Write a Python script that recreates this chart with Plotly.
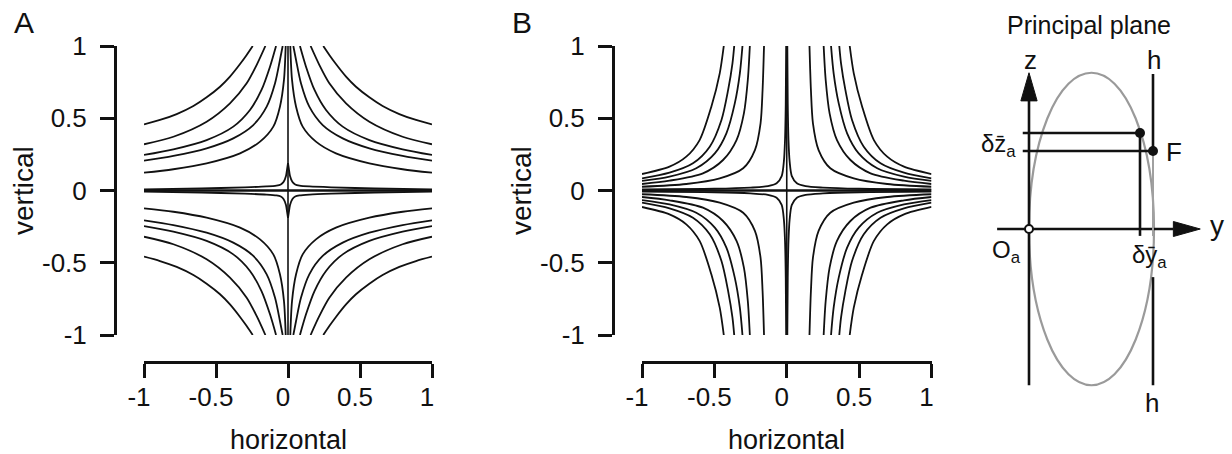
import plotly.graph_objects as go

W, H = 1232, 454

# ---------------- Panel A: upper-left branches (mirrored to the other quadrants)
a1_x = [-1.0, -0.889, -0.773, -0.657, -0.565, -0.472, -0.403, -0.333, -0.287, -0.245]
a1_y = [0.458, 0.488, 0.529, 0.585, 0.645, 0.718, 0.788, 0.875, 0.938, 1.0]
a2_x = [-1.0, -0.796, -0.565, -0.403, -0.287, -0.218, -0.157]
a2_y = [0.32, 0.372, 0.476, 0.603, 0.742, 0.868, 1.0]
a3_x = [-1.0, -0.796, -0.565, -0.38, -0.264, -0.184, -0.125, -0.083]
a3_y = [0.246, 0.285, 0.349, 0.442, 0.557, 0.696, 0.857, 1.0]
a4_x = [-1.0, -0.796, -0.565, -0.38, -0.241, -0.148, -0.09, -0.056, -0.037]
a4_y = [0.206, 0.239, 0.292, 0.361, 0.453, 0.58, 0.742, 0.903, 1.0]
a5_x = [-1.0, -0.796, -0.565, -0.333, -0.194, -0.102, -0.056, -0.028, -0.016]
a5_y = [0.123, 0.147, 0.188, 0.257, 0.338, 0.442, 0.58, 0.765, 1.0]
a_cusp_x = [-1.0, -0.6, -0.3, -0.15, -0.08, -0.05, -0.03, -0.014, -0.006, 0.0]
a_cusp_y = [0.008, 0.014, 0.022, 0.028, 0.034, 0.042, 0.06, 0.1, 0.15, 0.19]

# ---------------- Panel B: upper-left branches
b1_x = [-1.0, -0.81, -0.694, -0.602, -0.521, -0.463, -0.435]
b1_y = [0.114, 0.165, 0.234, 0.349, 0.58, 0.811, 1.0]
b2_x = [-1.0, -0.81, -0.648, -0.532, -0.451, -0.405, -0.375, -0.363]
b2_y = [0.084, 0.123, 0.188, 0.303, 0.488, 0.696, 0.88, 1.0]
b3_x = [-1.0, -0.81, -0.625, -0.497, -0.417, -0.359, -0.324, -0.306]
b3_y = [0.066, 0.096, 0.154, 0.257, 0.396, 0.603, 0.811, 1.0]
b4_x = [-1.0, -0.81, -0.579, -0.44, -0.347, -0.296, -0.269, -0.255]
b4_y = [0.045, 0.068, 0.119, 0.211, 0.349, 0.534, 0.765, 1.0]
b5_x = [-1.0, -0.694, -0.463, -0.301, -0.22, -0.181, -0.167, -0.157]
b5_y = [0.026, 0.045, 0.084, 0.154, 0.28, 0.465, 0.696, 1.0]
b_cusp_x = [-1.0, -0.5, -0.25, -0.13, -0.07, -0.035, -0.02, -0.012, -0.007, -0.004]
b_cusp_y = [0.008, 0.012, 0.02, 0.03, 0.05, 0.1, 0.2, 0.35, 0.6, 1.0]

axis_span = [-1.0, 1.0]
zero_pair = [0.0, 0.0]

tick_vals = [-1, -0.5, 0, 0.5, 1]
tick_text = ["-1", "-0.5", "0", "0.5", "1"]

# ---------------- Panel C: schematic of the principal plane (schematic units)
ell_center = (1.0, 0.0)
ell_axes = (1.0, 2.5)
z_axis_v = [-2.5, 2.05]
z_head_x = [-0.13, 0.0, 0.13, -0.13]
z_head_y = [2.05, 2.5, 2.05, 2.05]
y_axis_u = [-0.51, 2.31]
y_head_x = [2.31, 2.74, 2.31, 2.31]
y_head_y = [-0.12, 0.0, 0.12, -0.12]
dot_u, dot_v = 1.776, 1.536
f_u, f_v = 1.984, 1.248
line_start_u = -0.1
drop_end_v = -0.11
h_top_v = 2.48
h_low = [-0.77, -2.5]

FONT = "Liberation Sans, Arial, Helvetica, sans-serif"
BLACK = "#111111"
LW = 1.8

fig = go.Figure()


def add_quadrants(xs, ys, xa, ya, width=LW):
    for sx in (1, -1):
        for sy in (1, -1):
            fig.add_trace(go.Scatter(
                x=[sx * v for v in xs], y=[sy * v for v in ys], mode="lines",
                line=dict(color=BLACK, width=width, shape="spline", smoothing=0.8),
                xaxis=xa, yaxis=ya, showlegend=False, hoverinfo="skip"))


for xs, ys in [(a1_x, a1_y), (a2_x, a2_y), (a3_x, a3_y), (a4_x, a4_y), (a5_x, a5_y), (a_cusp_x, a_cusp_y)]:
    add_quadrants(xs, ys, "x", "y")
for xs, ys in [(b1_x, b1_y), (b2_x, b2_y), (b3_x, b3_y), (b4_x, b4_y), (b5_x, b5_y), (b_cusp_x, b_cusp_y)]:
    add_quadrants(xs, ys, "x2", "y2")

# straight zero lines
for xa, ya in [("x", "y"), ("x2", "y2")]:
    fig.add_trace(go.Scatter(x=axis_span, y=zero_pair, mode="lines",
                             line=dict(color=BLACK, width=2.4), xaxis=xa, yaxis=ya,
                             showlegend=False, hoverinfo="skip"))
    fig.add_trace(go.Scatter(x=zero_pair, y=axis_span, mode="lines",
                             line=dict(color=BLACK, width=1.6), xaxis=xa, yaxis=ya,
                             showlegend=False, hoverinfo="skip"))

# ---------------- schematic traces
SLW = 2.6
def sline(xs, ys, color=BLACK, width=SLW):
    fig.add_trace(go.Scatter(x=xs, y=ys, mode="lines", line=dict(color=color, width=width),
                             xaxis="x3", yaxis="y3", showlegend=False, hoverinfo="skip"))

sline([0, 0], z_axis_v)
sline(y_axis_u, [0, 0])
sline([line_start_u, dot_u], [dot_v, dot_v])
sline([line_start_u, f_u], [f_v, f_v])
sline([dot_u, dot_u], [dot_v, drop_end_v])
sline([f_u, f_u], [h_top_v, f_v])
sline([f_u, f_u], [f_v, drop_end_v], color="#a0a0a0", width=2)
sline([f_u, f_u], h_low)
for hx, hy in [(z_head_x, z_head_y), (y_head_x, y_head_y)]:
    fig.add_trace(go.Scatter(x=hx, y=hy, mode="lines", fill="toself", fillcolor=BLACK,
                             line=dict(color=BLACK, width=1), xaxis="x3", yaxis="y3",
                             showlegend=False, hoverinfo="skip"))
fig.add_trace(go.Scatter(x=[dot_u, f_u], y=[dot_v, f_v], mode="markers",
                         marker=dict(color=BLACK, size=10), xaxis="x3", yaxis="y3",
                         showlegend=False, hoverinfo="skip"))
fig.add_trace(go.Scatter(x=[0], y=[0], mode="markers",
                         marker=dict(color="white", size=8, line=dict(color=BLACK, width=2)),
                         xaxis="x3", yaxis="y3", showlegend=False, hoverinfo="skip"))

fig.add_shape(type="circle", xref="x3", yref="y3",
              x0=ell_center[0] - ell_axes[0], x1=ell_center[0] + ell_axes[0],
              y0=ell_center[1] - ell_axes[1], y1=ell_center[1] + ell_axes[1],
              line=dict(color="#9a9a9a", width=2.2), layer="below")

# ---------------- axes
def px_x(p):
    return p / W

def px_y(p):
    return 1 - p / H

common = dict(range=[-1, 1], showline=True, linewidth=3, linecolor=BLACK, ticks="outside",
              ticklen=14, tickwidth=3, tickcolor=BLACK, tickmode="array", tickvals=tick_vals,
              ticktext=tick_text, tickfont=dict(size=26, color=BLACK, family=FONT),
              showgrid=False, zeroline=False, anchor="free", fixedrange=True)
xcommon = dict(ticklabelstandoff=-3, ticklabelshift=-5, **common)
ycommon = dict(ticklabelstandoff=8, **common)

fig.update_layout(
    autosize=True, margin=dict(l=0, r=0, t=0, b=0, autoexpand=False),
    paper_bgcolor="white", plot_bgcolor="rgba(0,0,0,0)",
    font=dict(family=FONT, color=BLACK),
    xaxis=dict(domain=[px_x(144), px_x(432)], position=px_y(362), **xcommon),
    yaxis=dict(domain=[px_y(335), px_y(46)], position=px_x(115), **ycommon),
    xaxis2=dict(domain=[px_x(642), px_x(931.5)], position=px_y(362), **xcommon),
    yaxis2=dict(domain=[px_y(335), px_y(46)], position=px_x(613), **ycommon),
    xaxis3=dict(domain=[px_x(960), 1.0], range=[(960 - 1029) / 62.5, (1232 - 1029) / 62.5],
                visible=False, anchor="y3", fixedrange=True),
    yaxis3=dict(domain=[px_y(420), px_y(40)], range=[(229 - 420) / 62.5, (229 - 40) / 62.5],
                visible=False, anchor="x3", fixedrange=True),
)

ann = []
def pa(text, x, y, size=27, angle=0, xanchor="center"):
    ann.append(dict(text=text, x=px_x(x), y=px_y(y), xref="paper", yref="paper",
                    showarrow=False, font=dict(size=size, family=FONT, color=BLACK),
                    textangle=angle, xanchor=xanchor, yanchor="middle"))

def sa(text, u, v, size=24, xanchor="center"):
    ann.append(dict(text=text, x=u, y=v, xref="x3", yref="y3", showarrow=False,
                    font=dict(size=size, family=FONT, color=BLACK), xanchor=xanchor,
                    yanchor="middle"))

pa("A", 24, 23, size=30)
pa("B", 522, 23, size=30)
pa("vertical", 23, 191, size=28, angle=-90)
pa("vertical", 521, 191, size=28, angle=-90)
pa("horizontal", 288, 440)
pa("horizontal", 786, 440)
pa("Principal plane", 1089, 25, size=25)

sa("z", 0.016, 2.70, size=26)
sa("h", 2.0, 2.70, size=26)
sa("F", 2.32, 1.23, size=26)
sa("δz\u0304<sub>a</sub>", -0.18, 1.33, size=24, xanchor="right")
sa("y", 3.0, 0.06, size=28)
sa("O<sub>a</sub>", -0.36, -0.36, size=24)
sa("δȳ<sub>a</sub>", 1.92, -0.44, size=24)
sa("h", 1.97, -2.78, size=26)

fig.update_layout(annotations=ann)

fig.write_html("out.html", config={"displayModeBar": False, "responsive": True},
               default_width="100vw", default_height="100vh",
               post_script="document.body.style.margin='0';document.body.style.overflow='hidden';"
                           "Plotly.Plots.resize(document.getElementById('{plot_id}'));")
